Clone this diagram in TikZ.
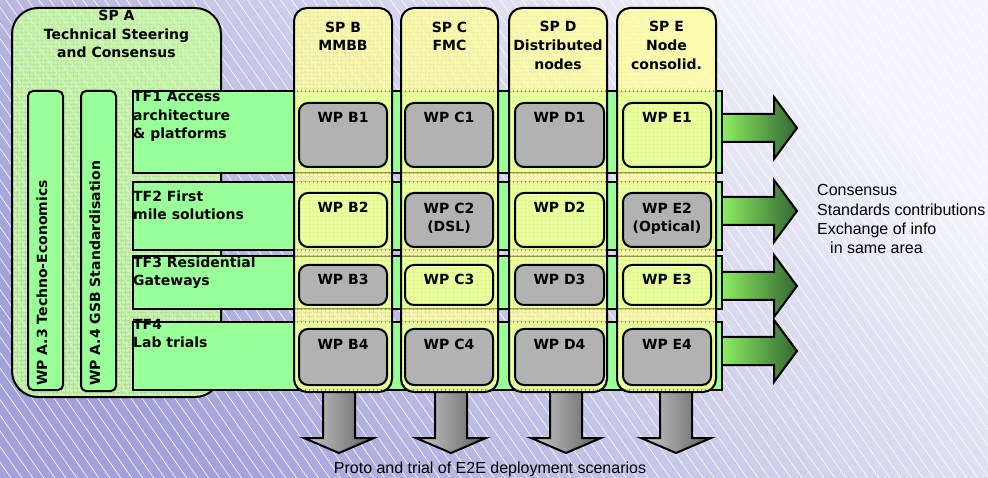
\documentclass[tikz,border=0pt]{standalone}
\usepackage{fontspec}
\setmainfont{Liberation Sans}
\newfontfamily\boldf{DejaVu Sans}
\usetikzlibrary{patterns.meta}
\definecolor{bgdark}{HTML}{A2A2DA}
\definecolor{bglight}{HTML}{F4F4FA}
\definecolor{tfgreen}{HTML}{99FF99}
\definecolor{spagreen}{HTML}{C8FF99}
\definecolor{spyellow}{HTML}{FFFF99}
\definecolor{wpgray}{HTML}{B2B2B2}
\definecolor{arrlight}{HTML}{99FF66}
\definecolor{arrdark}{HTML}{336633}
\definecolor{dlight}{HTML}{CCCCCC}
\definecolor{ddark}{HTML}{5E5E5E}
\tikzset{
  lbl/.style={font=\boldf\bfseries\fontsize{14}{18.8}\selectfont, inner sep=0pt, align=center, anchor=base},
  tflbl/.style={font=\boldf\bfseries\fontsize{14}{18.8}\selectfont, inner sep=0pt, align=left, anchor=base west},
  plain/.style={font=\fontsize{16}{19.4}\selectfont, inner sep=0pt},
  stripes/.style={fill=#1, fill opacity=0.58,
    postaction={pattern={Lines[angle=0,distance=4pt,line width=2.8pt]}, pattern color=#1, fill opacity=1},
    postaction={draw=black, line width=2pt, fill opacity=1}},
  spabox/.style={line width=2pt, rounded corners=26pt, stripes=spagreen, inner sep=0pt},
  wpabox/.style={draw, line width=2pt, rounded corners=5pt, fill=tfgreen, inner sep=0pt},
  tfbox/.style={draw, line width=2pt, fill=tfgreen, inner sep=0pt, minimum width=589pt},
  spcol/.style={line width=2pt, rounded corners=13pt, stripes=spyellow, inner sep=0pt, minimum height=384pt},
  wpg/.style={draw, line width=2pt, rounded corners=9pt, fill=wpgray, inner sep=0pt},
  wpy/.style={draw, line width=2pt, rounded corners=9pt, inner sep=0pt},
  rarrow/.style={draw, line width=2pt, line join=miter, left color=arrlight, right color=arrdark},
  darrow/.style={draw, line width=2pt, line join=miter, left color=dlight, right color=ddark},
}
\begin{document}
\begin{tikzpicture}[x=1pt,y=-1pt]
\useasboundingbox (0,0) rectangle (988,478);
% background
\fill[shading=axis, top color=bglight, bottom color=bgdark, shading angle=-45] (0,0) rectangle (988,478);
\fill[pattern={Lines[angle=-55,distance=9pt,line width=0.6pt]}, pattern color=white, fill opacity=0.35] (0,0) rectangle (988,478);

% SP A
\node[spabox, minimum width=209pt, minimum height=389pt] (spa) at (116.5,202.5) {};
\node[lbl] (spat) at (116.5,58) {SP A\\Technical Steering\\and Consensus};
\node[wpabox, minimum width=35pt, minimum height=299pt] (wpa3) at (45.5,240.5) {};
\node[wpabox, minimum width=35pt, minimum height=300pt] (wpa4) at (98.5,241) {};
\node[tflbl, rotate=90] (wpa3t) at (47,386) {WP A.3 Techno-Economics};
\node[tflbl, rotate=90] (wpa4t) at (100,386) {WP A.4 GSB Standardisation};

% right arrows
\foreach \c/\n in {128/1,211/2,286/3,351/4}{
  \coordinate (ra\n) at (797,\c);
  \draw[rarrow] (712,\c-14) -- (774,\c-14) -- (774,\c-31) -- (ra\n) -- (774,\c+31) -- (774,\c+14) -- (712,\c+14) -- cycle;
}
% down arrows
\foreach \c/\n in {339/1,451/2,566/3,676/4}{
  \coordinate (da\n) at (\c,453);
  \draw[darrow] (\c-16,385) -- (\c+16,385) -- (\c+16,438) -- (\c+35,438) -- (da\n) -- (\c-35,438) -- (\c-16,438) -- cycle;
}

% TF bars
\node[tfbox, minimum height=82pt] (tf1) at (427.5,132) {};
\node[tfbox, minimum height=68pt] (tf2) at (427.5,216) {};
\node[tfbox, minimum height=53pt] (tf3) at (427.5,282.5) {};
\node[tfbox, minimum height=68pt] (tf4) at (427.5,356) {};
\node[tflbl] (tf1t) at (133,139) {TF1 Access\\architecture\\\& platforms};
\node[tflbl] (tf2t) at (133,220) {TF2 First\\mile solutions};
\node[tflbl] (tf3t) at (133,286) {TF3 Residential\\Gateways};
\node[tflbl] (tf4t) at (133,348) {TF4\\Lab trials};

% SP columns
\node[spcol, minimum width=98pt] (spb) at (343,200) {};
\node[spcol, minimum width=97pt] (spc) at (449.5,200) {};
\node[spcol, minimum width=98pt] (spd) at (558,200) {};
\node[spcol, minimum width=99pt] (spe) at (666.5,200) {};
\node[lbl] (spbt) at (343,51) {SP B\\MMBB};
\node[lbl] (spct) at (449.5,51) {SP C\\FMC};
\node[lbl] (spdt) at (558,69.5) {SP D\\Distributed\\nodes};
\node[lbl] (spet) at (666.5,69.5) {SP E\\Node\\consolid.};

% row 1
\node[wpg, minimum width=88pt, minimum height=64pt] (b1) at (343,135) {};
\node[wpg, minimum width=88pt, minimum height=64pt] (c1) at (449,135) {};
\node[wpg, minimum width=89pt, minimum height=64pt] (d1) at (559.5,135) {};
\node[wpy, minimum width=88pt, minimum height=64pt] (e1) at (667,135) {};
% row 2
\node[wpy, minimum width=88pt, minimum height=54pt] (b2) at (343,220) {};
\node[wpg, minimum width=88pt, minimum height=54pt] (c2) at (449,220) {};
\node[wpy, minimum width=89pt, minimum height=54pt] (d2) at (559.5,220) {};
\node[wpg, minimum width=88pt, minimum height=54pt] (e2) at (667,220) {};
% row 3
\node[wpg, minimum width=88pt, minimum height=40pt] (b3) at (343,285) {};
\node[wpy, minimum width=88pt, minimum height=40pt] (c3) at (449,285) {};
\node[wpg, minimum width=89pt, minimum height=40pt] (d3) at (559.5,285) {};
\node[wpy, minimum width=88pt, minimum height=40pt] (e3) at (667,285) {};
% row 4
\node[wpg, minimum width=88pt, minimum height=56pt] (b4) at (343,357) {};
\node[wpg, minimum width=88pt, minimum height=56pt] (c4) at (449,357) {};
\node[wpg, minimum width=89pt, minimum height=56pt] (d4) at (559.5,357) {};
\node[wpg, minimum width=88pt, minimum height=56pt] (e4) at (667,357) {};

\foreach \n/\t in {b1/WP B1,c1/WP C1,d1/WP D1,e1/WP E1,
                   b2/WP B2,d2/WP D2,
                   b3/WP B3,c3/WP C3,d3/WP D3,e3/WP E3,
                   b4/WP B4,c4/WP C4,d4/WP D4,e4/WP E4}{
  \node[lbl] (\n t) at ([yshift=-21pt]\n.north) {\t};
}
\node[lbl] (c2t) at ([yshift=-40pt]c2.north) {WP C2\\(DSL)};
\node[lbl] (e2t) at ([yshift=-40pt]e2.north) {WP E2\\(Optical)};

% texts
\node[plain, anchor=base west, align=left] (note) at (817,254) {Consensus\\Standards contributions\\Exchange of info\\\hspace*{13pt}in same area};
\node[plain, anchor=base] (proto) at (490,473) {Proto and trial of E2E deployment scenarios};
\end{tikzpicture}
\end{document}
